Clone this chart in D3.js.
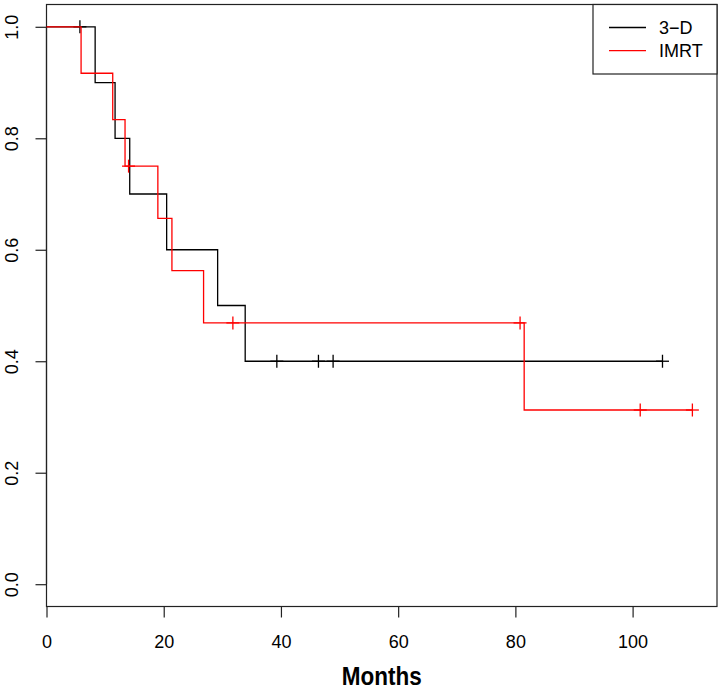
<!DOCTYPE html>
<html><head><meta charset="utf-8">
<script src="https://cdn.jsdelivr.net/npm/d3@7"></script>
<style>body{margin:0;background:#fff;} text{font-family:"Liberation Sans",Arial,sans-serif;}</style>
</head><body>
<svg id="c" width="724" height="691"></svg>
<script>
// Kaplan-Meier curves (step points: time, survival) and censor marks
const groups = ["3\u2212D", "IMRT"];
const colors = ["#000000", "#ff0000"];
const steps3D = [[0,1.0],[8.3,0.9],[11.7,0.8],[14.2,0.7],[20.5,0.6],[29.2,0.5],[33.9,0.4]];
const end3D = 105.1;
const cens3D = [[5.7,1.0],[39.3,0.4],[46.4,0.4],[48.9,0.4],[105.1,0.4]];
const stepsIMRT = [[0,1.0],[5.9,0.9167],[11.3,0.8333],[13.4,0.75],[19.0,0.6563],[21.4,0.5625],[26.8,0.4688],[81.5,0.3125]];
const endIMRT = 110.2;
const censIMRT = [[14.0,0.75],[31.8,0.4688],[80.8,0.4688],[101.3,0.3125],[110.2,0.3125]];
const xTicks = [0,20,40,60,80,100];
const yTicks = [0,0.2,0.4,0.6,0.8,1.0];
const xLabel = "Months";

const svg = d3.select("#c");
const L=46.5, R=717, T=4.5, B=606.5;
const x = d3.scaleLinear().domain([0, 114.4]).range([L, R]);
const y = d3.scaleLinear().domain([-0.04, 1.04]).range([B, T]);

// frame
svg.append("rect").attr("x",L).attr("y",T).attr("width",R-L).attr("height",B-T)
  .attr("fill","none").attr("stroke","#222").attr("stroke-width",1.2);

// axes
const xa = svg.append("g").attr("transform",`translate(0,${B})`)
  .call(d3.axisBottom(x).tickValues(xTicks).tickFormat(d3.format("d")).tickSize(11).tickPadding(17.5));
xa.select(".domain").attr("d",`M${x(0)},0H${x(100)}`).attr("stroke","#222").attr("stroke-width",1.2);
xa.selectAll("line").attr("stroke","#222").attr("stroke-width",1.2);
xa.selectAll("text").attr("font-size",18).attr("fill","#000").attr("font-family","Liberation Sans, Arial, sans-serif");

const ya = svg.append("g").attr("transform",`translate(${L},0)`)
  .call(d3.axisLeft(y).tickValues(yTicks).tickFormat(d3.format(".1f")).tickSize(11).tickPadding(8));
ya.select(".domain").attr("d",`M0,${y(0)}V${y(1)}`).attr("stroke","#222").attr("stroke-width",1.2);
ya.selectAll("line").attr("stroke","#222").attr("stroke-width",1.2);
ya.selectAll("text").attr("font-size",18).attr("fill","#000").attr("font-family","Liberation Sans, Arial, sans-serif")
  .attr("x",null).attr("dy","0").attr("y",0)
  .attr("text-anchor","middle")
  .attr("transform","translate(-28.5,0) rotate(-90)");

svg.append("text").attr("x",(L+R)/2).attr("y",685).attr("text-anchor","middle")
  .attr("font-size",26).attr("font-weight","bold")
  .attr("textLength",80).attr("lengthAdjust","spacingAndGlyphs").text(xLabel);

function stepPath(steps, end){
  const pts=[];
  steps.forEach((s,i)=>{ if(i>0) pts.push([s[0], steps[i-1][1]]); pts.push(s); });
  pts.push([end, steps[steps.length-1][1]]);
  return d3.line().x(d=>x(d[0])).y(d=>y(d[1]))(pts);
}
const series=[{steps:steps3D,end:end3D,cens:cens3D},{steps:stepsIMRT,end:endIMRT,cens:censIMRT}];
series.forEach((s,i)=>{
  svg.append("path").attr("d",stepPath(s.steps,s.end)).attr("fill","none")
    .attr("stroke",colors[i]).attr("stroke-width",1.3);
  const g=svg.append("g").attr("stroke",colors[i]).attr("stroke-width",1.3);
  s.cens.forEach(c=>{
    g.append("line").attr("x1",x(c[0])).attr("x2",x(c[0])).attr("y1",y(c[1])-6.5).attr("y2",y(c[1])+6.5);
    g.append("line").attr("x1",x(c[0])-6.5).attr("x2",x(c[0])+6.5).attr("y1",y(c[1])).attr("y2",y(c[1]));
  });
});

// legend
svg.append("rect").attr("x",593).attr("y",T).attr("width",R-593).attr("height",74-T)
  .attr("fill","#fff").attr("stroke","#222").attr("stroke-width",1.2);
groups.forEach((g,i)=>{
  const yy=27.5+i*23.2;
  svg.append("line").attr("x1",609).attr("x2",646).attr("y1",yy).attr("y2",yy)
    .attr("stroke",colors[i]).attr("stroke-width",1.3);
  svg.append("text").attr("x",659).attr("y",yy+6.5).attr("font-size",18).text(g);
});
</script>
</body></html>
